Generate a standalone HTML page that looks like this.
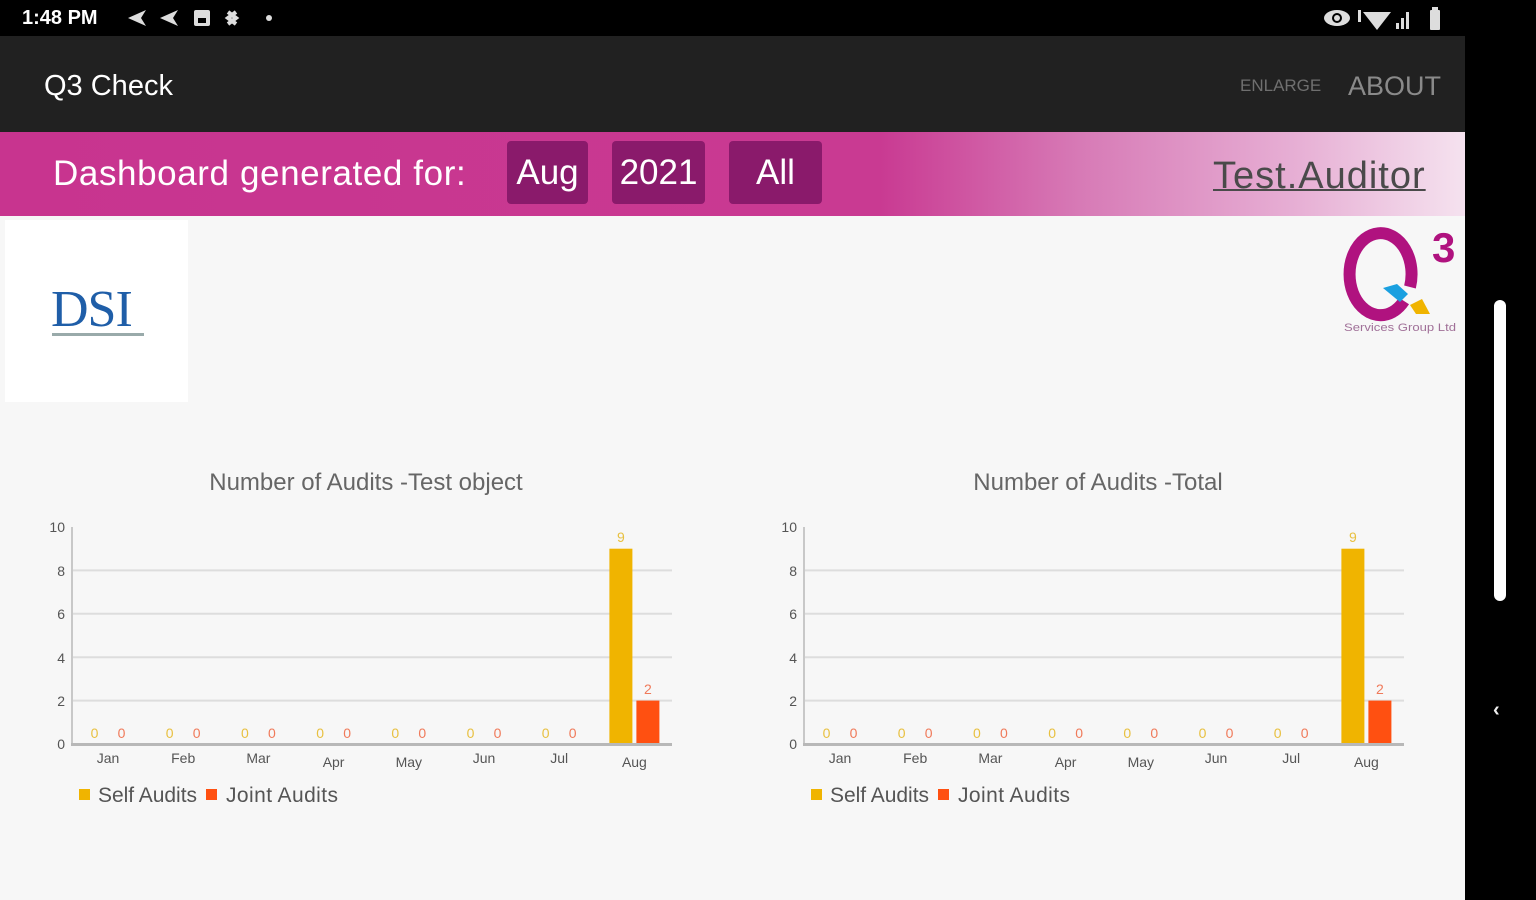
<!DOCTYPE html>
<html><head><meta charset="utf-8">
<style>
html,body{margin:0;padding:0;}
body{width:1536px;height:900px;position:relative;overflow:hidden;background:#000;font-family:"Liberation Sans",Arial,sans-serif;}
.abs{position:absolute;}
#status{left:0;top:0;width:1536px;height:36px;background:#000;}
#appbar{left:0;top:36px;width:1465px;height:96px;background:#212121;}
#banner{left:0;top:132px;width:1465px;height:84px;background:linear-gradient(to right,#c8348f 0px,#c93a92 880px,#d77ab6 1080px,#e7b0d5 1300px,#f5e2ef 1465px);}
#content{left:0;top:216px;width:1465px;height:684px;background:#f7f7f7;}
.btn{top:141px;height:63px;background:#8a1a6b;border-radius:4px;color:#fff;font-size:35px;line-height:63px;text-align:center;}
</style></head>
<body>
<div id="status" class="abs"></div>
<div class="abs" style="left:22px;top:6px;color:#fff;font-size:20px;font-weight:bold;line-height:24px;">1:48 PM</div>
<svg class="abs" style="left:120px;top:4px" width="160" height="28">
  <polygon points="8,14 26,6 21,14 26,22" fill="#ddd"/>
  <polygon points="40,14 58,6 53,14 58,22" fill="#ddd"/>
  <rect x="74" y="6" width="16" height="16" rx="2" fill="#ddd"/><rect x="78" y="14" width="8" height="5" fill="#000"/>
  <path d="M108 8 l8 6 l-8 6 M116 8 l-8 6 l8 6" stroke="#ddd" stroke-width="4" fill="none"/>
  <circle cx="149" cy="14" r="3" fill="#ddd"/>
</svg>
<svg class="abs" style="left:1320px;top:4px" width="130" height="28">
  <ellipse cx="17" cy="14" rx="13" ry="8" fill="#ddd"/><circle cx="17" cy="14" r="5" fill="#000"/><circle cx="17" cy="14" r="3" fill="#ddd"/>
  <rect x="38" y="6" width="3" height="12" fill="#ddd"/>
  <path d="M43 8 L71 8 L57 26 Z" fill="#ddd"/>
  <rect x="76" y="19" width="3" height="6" fill="#ddd"/><rect x="81" y="14" width="3" height="11" fill="#ddd"/><rect x="86" y="8" width="3" height="17" fill="#ddd"/>
  <rect x="110" y="6" width="10" height="20" rx="1" fill="#ddd"/><rect x="112" y="3" width="6" height="3" fill="#ddd"/>
</svg>

<div id="appbar" class="abs"></div>
<div class="abs" style="left:44px;top:68px;color:#fff;font-size:29px;line-height:36px;">Q3 Check</div>
<div class="abs" style="left:1240px;top:75px;color:#6f6f6f;font-size:17px;line-height:22px;">ENLARGE</div>
<div class="abs" style="left:1348px;top:69px;color:#8a8a8a;font-size:27px;line-height:34px;">ABOUT</div>

<div id="banner" class="abs"></div>
<div class="abs" style="left:53px;top:153px;color:#fff;font-size:35px;line-height:42px;letter-spacing:0.6px;">Dashboard generated for:</div>
<div class="abs btn" style="left:507px;width:81px;">Aug</div>
<div class="abs btn" style="left:612px;width:93px;">2021</div>
<div class="abs btn" style="left:729px;width:93px;">All</div>
<div class="abs" style="left:1213px;top:154px;color:#4a4a4a;font-size:38px;line-height:44px;letter-spacing:1px;text-decoration:underline;text-decoration-thickness:2px;">Test.Auditor</div>

<div id="content" class="abs"></div>
<div class="abs" style="left:5px;top:220px;width:183px;height:182px;background:#fff;"></div>
<div class="abs" style="left:51px;top:282px;color:#1f5ea8;font-family:'Liberation Serif',serif;font-size:52px;line-height:56px;letter-spacing:-1px;">DSI</div>
<div class="abs" style="left:52px;top:333px;width:92px;height:3px;background:#9aa;"></div>

<svg class="abs" style="left:1330px;top:215px" width="135" height="125">
  <path d="M 74 86 A 31 41 0 1 1 80 72" fill="none" stroke="#b0127f" stroke-width="12"/>
  <polygon points="53,73 67,69 78,79 70,87" fill="#1aa0e0"/>
  <polygon points="80,90 92,84 100,99 86,99" fill="#f0b400"/>
  <text x="102" y="47" font-size="42" font-weight="bold" fill="#b0127f" font-family="Liberation Sans, sans-serif">3</text>
  <text x="14" y="116" font-size="11" fill="#a07098" font-family="Liberation Sans, sans-serif" textLength="112" lengthAdjust="spacingAndGlyphs">Services Group Ltd</text>
</svg>

<div class="abs" style="left:1465px;top:0;width:71px;height:900px;background:#000;"></div>
<div class="abs" style="left:1494px;top:300px;width:12px;height:301px;background:#fff;border-radius:6px;"></div>
<div class="abs" style="left:1493px;top:699px;color:#eee;font-size:20px;font-weight:bold;">&lsaquo;</div>

<svg class="abs" style="left:0;top:0" width="1465" height="900" font-family="Liberation Sans, Arial, sans-serif">
  <g id="c1">
    <text x="366" y="490" font-size="24" fill="#666" text-anchor="middle">Number of Audits -Test object</text>
    <g stroke="#ddd" stroke-width="2">
      <line x1="73" y1="570.4" x2="672" y2="570.4"/>
      <line x1="73" y1="613.8" x2="672" y2="613.8"/>
      <line x1="73" y1="657.2" x2="672" y2="657.2"/>
      <line x1="73" y1="700.6" x2="672" y2="700.6"/>
    </g>
    <line x1="72" y1="527" x2="72" y2="745" stroke="#c8c8c8" stroke-width="2"/>
    <g font-size="14" fill="#555" text-anchor="end">
      <text x="65" y="532">10</text>
      <text x="65" y="576">8</text>
      <text x="65" y="619">6</text>
      <text x="65" y="663">4</text>
      <text x="65" y="706">2</text>
      <text x="65" y="749">0</text>
    </g>
    <rect x="609.4" y="548.7" width="23" height="195.3" fill="#f0b400"/>
    <rect x="636.4" y="700.6" width="23" height="43.4" fill="#ff5011"/>
    <line x1="71" y1="744.5" x2="672" y2="744.5" stroke="#b8b8b8" stroke-width="3"/>
    <g font-size="14" fill="#e8c040" text-anchor="middle">
      <text x="94.5" y="738">0</text><text x="169.7" y="738">0</text><text x="244.9" y="738">0</text><text x="320.1" y="738">0</text>
      <text x="395.3" y="738">0</text><text x="470.5" y="738">0</text><text x="545.7" y="738">0</text><text x="620.9" y="542">9</text>
    </g>
    <g font-size="14" fill="#f07a5a" text-anchor="middle">
      <text x="121.5" y="738">0</text><text x="196.7" y="738">0</text><text x="271.9" y="738">0</text><text x="347.1" y="738">0</text>
      <text x="422.3" y="738">0</text><text x="497.5" y="738">0</text><text x="572.7" y="738">0</text><text x="647.9" y="694">2</text>
    </g>
    <g font-size="14" fill="#555" text-anchor="middle">
      <text x="108" y="763">Jan</text><text x="183.2" y="763">Feb</text><text x="258.4" y="763">Mar</text><text x="333.6" y="767">Apr</text>
      <text x="408.8" y="767">May</text><text x="484" y="763">Jun</text><text x="559.2" y="763">Jul</text><text x="634.4" y="767">Aug</text>
    </g>
    <rect x="79" y="789" width="11" height="11" fill="#f0b400"/>
    <text x="98" y="802" font-size="21" fill="#555" textLength="99">Self Audits</text>
    <rect x="206" y="789" width="11" height="11" fill="#ff5011"/>
    <text x="226" y="802" font-size="21" fill="#555" textLength="112">Joint Audits</text>
  </g>
  <g transform="translate(732,0)">
    <text x="366" y="490" font-size="24" fill="#666" text-anchor="middle">Number of Audits -Total</text>
    <g stroke="#ddd" stroke-width="2">
      <line x1="73" y1="570.4" x2="672" y2="570.4"/>
      <line x1="73" y1="613.8" x2="672" y2="613.8"/>
      <line x1="73" y1="657.2" x2="672" y2="657.2"/>
      <line x1="73" y1="700.6" x2="672" y2="700.6"/>
    </g>
    <line x1="72" y1="527" x2="72" y2="745" stroke="#c8c8c8" stroke-width="2"/>
    <g font-size="14" fill="#555" text-anchor="end">
      <text x="65" y="532">10</text>
      <text x="65" y="576">8</text>
      <text x="65" y="619">6</text>
      <text x="65" y="663">4</text>
      <text x="65" y="706">2</text>
      <text x="65" y="749">0</text>
    </g>
    <rect x="609.4" y="548.7" width="23" height="195.3" fill="#f0b400"/>
    <rect x="636.4" y="700.6" width="23" height="43.4" fill="#ff5011"/>
    <line x1="71" y1="744.5" x2="672" y2="744.5" stroke="#b8b8b8" stroke-width="3"/>
    <g font-size="14" fill="#e8c040" text-anchor="middle">
      <text x="94.5" y="738">0</text><text x="169.7" y="738">0</text><text x="244.9" y="738">0</text><text x="320.1" y="738">0</text>
      <text x="395.3" y="738">0</text><text x="470.5" y="738">0</text><text x="545.7" y="738">0</text><text x="620.9" y="542">9</text>
    </g>
    <g font-size="14" fill="#f07a5a" text-anchor="middle">
      <text x="121.5" y="738">0</text><text x="196.7" y="738">0</text><text x="271.9" y="738">0</text><text x="347.1" y="738">0</text>
      <text x="422.3" y="738">0</text><text x="497.5" y="738">0</text><text x="572.7" y="738">0</text><text x="647.9" y="694">2</text>
    </g>
    <g font-size="14" fill="#555" text-anchor="middle">
      <text x="108" y="763">Jan</text><text x="183.2" y="763">Feb</text><text x="258.4" y="763">Mar</text><text x="333.6" y="767">Apr</text>
      <text x="408.8" y="767">May</text><text x="484" y="763">Jun</text><text x="559.2" y="763">Jul</text><text x="634.4" y="767">Aug</text>
    </g>
    <rect x="79" y="789" width="11" height="11" fill="#f0b400"/>
    <text x="98" y="802" font-size="21" fill="#555" textLength="99">Self Audits</text>
    <rect x="206" y="789" width="11" height="11" fill="#ff5011"/>
    <text x="226" y="802" font-size="21" fill="#555" textLength="112">Joint Audits</text>
  </g>
</svg>
</body></html>
